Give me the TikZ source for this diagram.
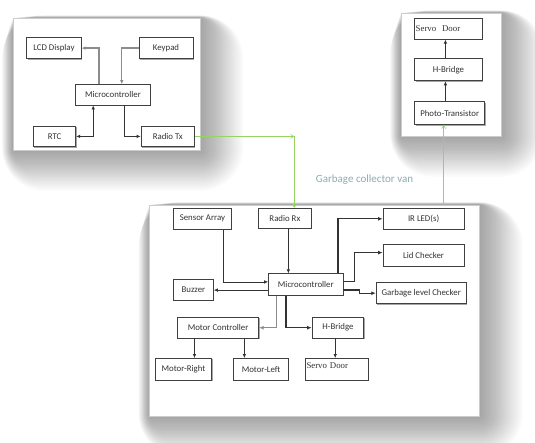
\documentclass[tikz,border=0pt]{standalone}
\usepackage{fontspec}
\setmainfont{Carlito}
\newfontfamily\doorfont{Liberation Serif}
\usetikzlibrary{arrows.meta,shadows}
\definecolor{vanclr}{RGB}{140,172,182}
\definecolor{greenln}{RGB}{150,210,100}
\pgfdeclarelayer{background}
\pgfsetlayers{background,main}
\newcommand{\softshadow}[1]{%
  \foreach \d in {1,...,24}{%
    \fill[black, opacity=0.016, rounded corners=1.8*\d]
      ([shift={(-0.45*\d,-0.1*\d)}]#1.north west) rectangle ([shift={(1.8*\d,1.7*\d)}]#1.south east);
  }%
}
\begin{document}
\begin{tikzpicture}[x=1pt,y=-1pt,
  panel/.style={draw=black!20, line width=0.4pt, fill=white, inner sep=0pt},
  box/.style={draw=black!75, line width=0.8pt, fill=white, inner sep=1pt,
    font=\fontsize{8.8}{10}\selectfont, text=black!80,
    general shadow={shadow xshift=0.9pt, shadow yshift=-0.9pt, fill=black!35}},
  door/.style={box, font=\doorfont\fontsize{8.8}{10}\selectfont, align=left, inner xsep=1pt},
  arr/.style={draw=black!80, line width=0.7pt, -{Latex[length=4pt,width=3.5pt]}},
  arrg/.style={draw=black!45, line width=1.3pt, -{Latex[length=4pt,width=3.5pt]}},
  arrt/.style={draw=black!80, line width=1.2pt, -{Latex[length=4.5pt,width=4pt]}},
  arrd/.style={draw=black!45, line width=1.6pt, -{Latex[length=4.5pt,width=4pt]}},
  garr/.style={draw=greenln, line width=0.6pt, -{Straight Barb[length=3pt,width=4pt]}},
]
\useasboundingbox (0,0) rectangle (535,443);

% panels
\node[panel, minimum width=187pt, minimum height=132pt] (p1) at (106.5,84) {};
\node[panel, minimum width=99.7pt, minimum height=122.8pt] (p2) at (450.9,74.4) {};
\node[panel, minimum width=330pt, minimum height=210.9pt] (p3) at (314.5,310.25) {};
\begin{pgfonlayer}{background}
  \fill[white] (0,0) rectangle (535,443);
  \softshadow{p1}
  \softshadow{p2}
  \softshadow{p3}
\end{pgfonlayer}

% panel 1
\node[box, minimum width=54.6pt, minimum height=21.2pt] (lcd) at (53.9,48.1) {LCD Display};
\node[box, minimum width=54pt, minimum height=21.2pt] (keypad) at (166,48.1) {Keypad};
\node[box, minimum width=74.4pt, minimum height=20.4pt] (mc1) at (113,94.8) {Microcontroller};
\node[box, minimum width=42.4pt, minimum height=20.8pt] (rtc) at (54.6,136.4) {RTC};
\node[box, minimum width=53.5pt, minimum height=20.8pt] (radiotx) at (167.8,136.4) {Radio Tx};

\draw[arrg] ([xshift=-14pt]mc1.north) |- (lcd.east);
\draw[arrg] (keypad.west) -| ([xshift=8.8pt]mc1.north);
\draw[arr, {Latex[length=4pt,width=3.5pt]}-{Latex[length=4pt,width=3.5pt]}] (rtc.east) -| ([xshift=-19.8pt]mc1.south);
\draw[arr] ([xshift=10.9pt]mc1.south) |- (radiotx.west);

% panel 2
\node[door, text width=65.6pt, minimum height=20.4pt] (servo2) at (448.5,29) {Servo\ \ Door};
\node[box, minimum width=67.6pt, minimum height=22.2pt] (hb2) at (448.5,69.8) {H-Bridge};
\node[box, minimum width=69.9pt, minimum height=22.9pt] (photo) at (449.7,113.2) {Photo-Transistor};
\draw[arr] ([xshift=-4.3pt]photo.north) -- ([xshift=-3.1pt]hb2.south);
\draw[arr] ([xshift=-3.1pt]hb2.north) -- ([xshift=-3.1pt]servo2.south);

% panel 3
\node[box, minimum width=58pt, minimum height=21.2pt] (sensor) at (202.4,218.8) {Sensor Array};
\node[box, minimum width=52.9pt, minimum height=19.8pt] (radiorx) at (284.9,218.1) {Radio Rx};
\node[box, minimum width=81.2pt, minimum height=21.2pt] (irled) at (423.6,218.8) {IR LED(s)};
\node[box, minimum width=81.2pt, minimum height=22.2pt] (lid) at (423.6,255.1) {Lid Checker};
\node[box, minimum width=74.4pt, minimum height=21.5pt] (mc3) at (305.8,284.5) {Microcontroller};
\node[box, minimum width=39.9pt, minimum height=20.4pt] (buzzer) at (193.4,290.1) {Buzzer};
\node[box, minimum width=90.1pt, minimum height=21.2pt] (garbage) at (421.2,293.2) {Garbage level Checker};
\node[box, minimum width=81.2pt, minimum height=20.5pt] (motorc) at (218.1,327.7) {Motor Controller};
\node[box, minimum width=51.8pt, minimum height=20.5pt] (hb3) at (337.9,327.7) {H-Bridge};
\node[box, minimum width=56.3pt, minimum height=22.1pt] (mright) at (183.5,369.5) {Motor-Right};
\node[box, minimum width=54.6pt, minimum height=22.1pt] (mleft) at (261.1,369.5) {Motor-Left};
\node[door, text width=60.4pt, minimum height=22.1pt, text depth=7pt] (servo3) at (336.7,369.5) {Servo Door};

\draw[arr] ([xshift=21.1pt]sensor.south) |- ([yshift=2.6pt]mc3.west);
\draw[arr] ([xshift=3.5pt]radiorx.south) -- ([xshift=-17.4pt]mc3.north);
\draw[arr] ([yshift=-5.6pt]mc3.west) -- (buzzer.east);
\draw[arrt] ([xshift=32.1pt]mc3.north) |- (irled.west);
\draw[arrt] ([yshift=2.6pt]mc3.east) -- ++(10.9,0) |- ([yshift=2.5pt]lid.west);
\draw[arrt] ([yshift=-5.6pt]mc3.east) -- ++(16,0) |- (garbage.west);
\draw[arrd] ([xshift=-29.3pt]mc3.south) |- (motorc.east);
\draw[arrt] ([xshift=-19.8pt]mc3.south) |- (hb3.west);
\draw[arr] ([xshift=-23.6pt]motorc.south) -- ([xshift=11pt]mright.north);
\draw[arr] ([xshift=26.3pt]motorc.south) -- ([xshift=-16.7pt]mleft.north);
\draw[arr] ([xshift=-2.7pt]hb3.south) -- ([xshift=-1.5pt]servo3.north);

% green links
\coordinate (gx) at (294.2,136.4);
\coordinate (gp) at (443.7,204.8);
\draw[garr] (radiotx.east) -- (gx);
\draw[garr] (gx) -- ([xshift=9.3pt]radiorx.north);
\draw[garr] (gp) -- ([xshift=-6pt]photo.south);

\node[text=vanclr, font=\fontsize{11}{13}\selectfont] (van) at (364.5,180) {Garbage collector van};
\end{tikzpicture}
\end{document}
